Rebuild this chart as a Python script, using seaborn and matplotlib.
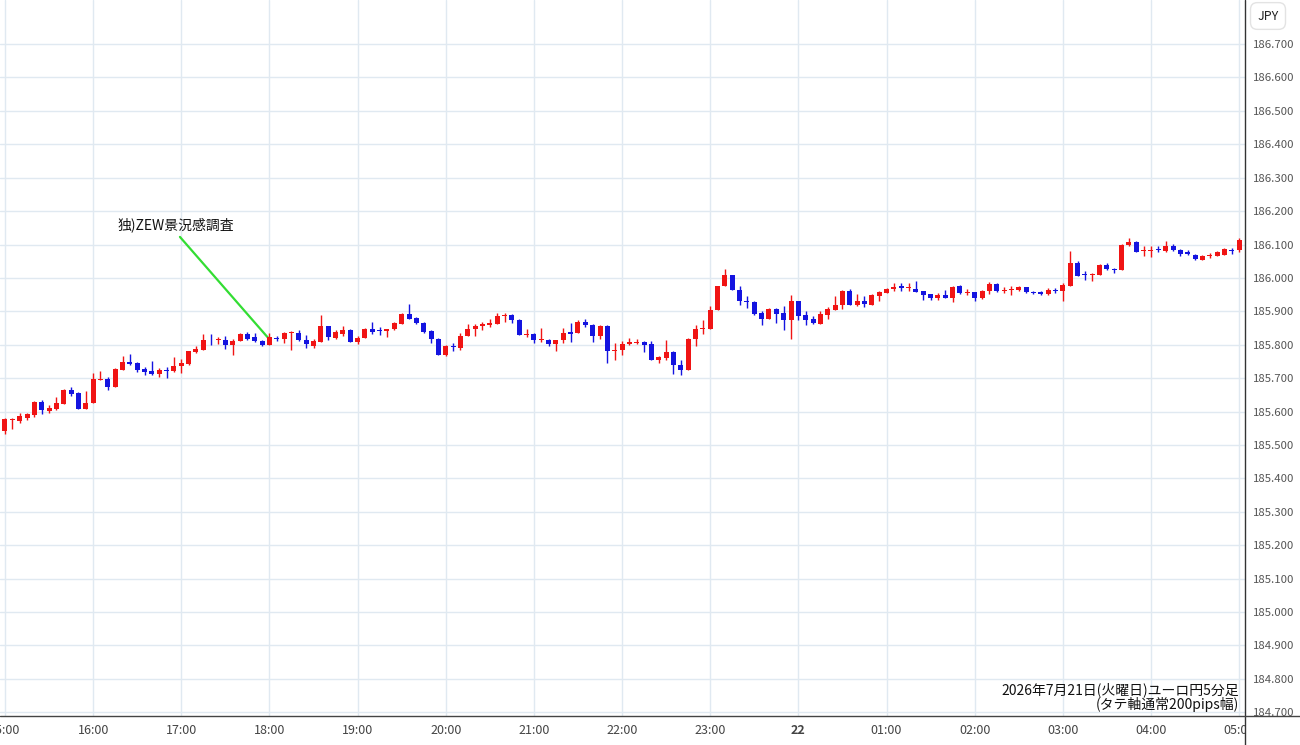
import matplotlib
matplotlib.use("Agg")
import matplotlib.pyplot as plt
from matplotlib.lines import Line2D
from matplotlib.transforms import Bbox, TransformedBbox
import numpy as np
import pandas as pd
import seaborn as sns

# EUR/JPY 5 minute candles, 2026-07-21 14:55 -> 2026-07-22 05:00
opens = [185.577,
         185.543, 185.575, 185.573, 185.582, 185.590, 185.630, 185.603, 185.608, 185.623, 185.663,
         185.655, 185.607, 185.625, 185.695, 185.698, 185.673, 185.725, 185.747, 185.745, 185.727,
         185.722, 185.712, 185.725, 185.720, 185.735, 185.742, 185.779, 185.785, 185.815, 185.813,
         185.815, 185.800, 185.812, 185.832, 185.823, 185.812, 185.800, 185.821, 185.816, 185.836,
         185.836, 185.813, 185.796, 185.809, 185.856, 185.821, 185.833, 185.844, 185.808, 185.821,
         185.848, 185.843, 185.841, 185.846, 185.863, 185.893, 185.881, 185.866, 185.841, 185.818,
         185.769, 185.795, 185.791, 185.826, 185.846, 185.856, 185.860, 185.863, 185.886, 185.889,
         185.874, 185.830, 185.832, 185.815, 185.815, 185.802, 185.815, 185.837, 185.835, 185.867,
         185.860, 185.825, 185.857, 185.780, 185.785, 185.802, 185.805, 185.808, 185.802, 185.755,
         185.760, 185.778, 185.740, 185.725, 185.817, 185.847, 185.848, 185.903, 185.975, 186.010,
         185.965, 185.930, 185.928, 185.895, 185.878, 185.908, 185.895, 185.875, 185.932, 185.888,
         185.877, 185.863, 185.890, 185.903, 185.918, 185.962, 185.920, 185.932, 185.920, 185.945,
         185.955, 185.968, 185.975, 185.970, 185.967, 185.960, 185.952, 185.940, 185.950, 185.940,
         185.975, 185.955, 185.957, 185.940, 185.960, 185.982, 185.962, 185.963, 185.963, 185.973,
         185.958, 185.957, 185.952, 185.965, 185.960, 185.975, 186.045, 186.012, 186.008, 186.008,
         186.040, 186.028, 186.023, 186.100, 186.108, 186.082, 186.082, 186.087, 186.080, 186.097,
         186.085, 186.077, 186.070, 186.055, 186.067, 186.067, 186.070, 186.085, 186.083]
highs = [185.580,
         185.580, 185.580, 185.597, 185.597, 185.632, 185.635, 185.620, 185.643, 185.667, 185.673,
         185.657, 185.662, 185.715, 185.720, 185.702, 185.730, 185.765, 185.773, 185.747, 185.733,
         185.750, 185.730, 185.733, 185.762, 185.757, 185.782, 185.795, 185.833, 185.833, 185.823,
         185.827, 185.817, 185.835, 185.837, 185.835, 185.815, 185.836, 185.826, 185.839, 185.841,
         185.844, 185.829, 185.816, 185.889, 185.856, 185.844, 185.856, 185.846, 185.826, 185.849,
         185.869, 185.854, 185.846, 185.869, 185.894, 185.921, 185.884, 185.869, 185.844, 185.821,
         185.799, 185.806, 185.834, 185.861, 185.863, 185.869, 185.876, 185.894, 185.896, 185.891,
         185.876, 185.846, 185.835, 185.850, 185.818, 185.815, 185.850, 185.865, 185.875, 185.878,
         185.862, 185.860, 185.858, 185.805, 185.810, 185.820, 185.818, 185.810, 185.810, 185.765,
         185.815, 185.780, 185.755, 185.820, 185.858, 185.875, 185.915, 185.977, 186.027, 186.010,
         185.977, 185.945, 185.930, 185.900, 185.910, 185.910, 185.915, 185.948, 185.932, 185.900,
         185.887, 185.900, 185.913, 185.945, 185.965, 185.967, 185.952, 185.945, 185.951, 185.960,
         185.970, 185.985, 185.985, 185.985, 185.990, 185.960, 185.952, 185.955, 185.965, 185.975,
         185.978, 185.968, 185.958, 185.965, 185.988, 185.985, 185.972, 185.975, 185.977, 185.973,
         185.960, 185.960, 185.970, 185.970, 185.985, 186.080, 186.050, 186.020, 186.015, 186.042,
         186.045, 186.030, 186.102, 186.120, 186.110, 186.097, 186.095, 186.097, 186.110, 186.102,
         186.087, 186.085, 186.072, 186.070, 186.075, 186.080, 186.090, 186.090, 186.120]
lows = [185.540,
        185.533, 185.547, 185.567, 185.575, 185.583, 185.593, 185.595, 185.605, 185.623, 185.647,
        185.607, 185.607, 185.625, 185.695, 185.665, 185.673, 185.723, 185.740, 185.717, 185.710,
        185.710, 185.703, 185.700, 185.717, 185.715, 185.740, 185.775, 185.785, 185.800, 185.803,
        185.788, 185.770, 185.810, 185.815, 185.807, 185.795, 185.798, 185.811, 185.806, 185.783,
        185.811, 185.791, 185.789, 185.809, 185.814, 185.816, 185.826, 185.808, 185.801, 185.821,
        185.833, 185.829, 185.823, 185.843, 185.863, 185.878, 185.863, 185.836, 185.806, 185.768,
        185.766, 185.781, 185.783, 185.826, 185.826, 185.844, 185.853, 185.863, 185.869, 185.866,
        185.829, 185.823, 185.805, 185.807, 185.795, 185.780, 185.805, 185.807, 185.835, 185.852,
        185.807, 185.817, 185.745, 185.755, 185.770, 185.800, 185.802, 185.777, 185.753, 185.745,
        185.753, 185.713, 185.710, 185.723, 185.797, 185.832, 185.848, 185.903, 185.975, 185.963,
        185.920, 185.910, 185.890, 185.858, 185.878, 185.865, 185.843, 185.818, 185.875, 185.860,
        185.863, 185.862, 185.877, 185.903, 185.907, 185.918, 185.915, 185.913, 185.920, 185.930,
        185.955, 185.962, 185.962, 185.960, 185.957, 185.933, 185.933, 185.933, 185.940, 185.927,
        185.953, 185.950, 185.930, 185.938, 185.952, 185.957, 185.955, 185.950, 185.960, 185.955,
        185.952, 185.948, 185.950, 185.955, 185.930, 185.975, 186.005, 185.995, 185.990, 186.008,
        186.025, 186.015, 186.023, 186.097, 186.078, 186.067, 186.063, 186.077, 186.077, 186.080,
        186.067, 186.070, 186.055, 186.055, 186.060, 186.065, 186.070, 186.073, 186.077]
closes = [185.545,
          185.577, 185.578, 185.587, 185.592, 185.630, 185.605, 185.612, 185.627, 185.665, 185.652,
          185.607, 185.625, 185.697, 185.698, 185.673, 185.728, 185.748, 185.743, 185.725, 185.717,
          185.712, 185.725, 185.722, 185.735, 185.745, 185.780, 185.787, 185.815, 185.813, 185.817,
          185.798, 185.812, 185.832, 185.817, 185.810, 185.800, 185.822, 185.816, 185.836, 185.839,
          185.813, 185.801, 185.811, 185.856, 185.823, 185.838, 185.844, 185.809, 185.821, 185.848,
          185.839, 185.840, 185.846, 185.866, 185.893, 185.878, 185.866, 185.839, 185.818, 185.769,
          185.796, 185.792, 185.826, 185.846, 185.856, 185.861, 185.866, 185.886, 185.889, 185.874,
          185.829, 185.833, 185.815, 185.818, 185.802, 185.815, 185.835, 185.833, 185.867, 185.859,
          185.825, 185.857, 185.780, 185.785, 185.802, 185.808, 185.808, 185.800, 185.755, 185.762,
          185.778, 185.740, 185.725, 185.817, 185.848, 185.850, 185.905, 185.975, 186.008, 185.963,
          185.930, 185.927, 185.893, 185.878, 185.908, 185.893, 185.875, 185.932, 185.885, 185.875,
          185.865, 185.892, 185.907, 185.920, 185.962, 185.920, 185.930, 185.921, 185.949, 185.957,
          185.968, 185.972, 185.970, 185.972, 185.957, 185.950, 185.940, 185.950, 185.940, 185.973,
          185.955, 185.958, 185.940, 185.962, 185.982, 185.960, 185.965, 185.967, 185.973, 185.957,
          185.955, 185.953, 185.965, 185.961, 185.980, 186.045, 186.007, 186.008, 186.012, 186.040,
          186.027, 186.025, 186.100, 186.108, 186.078, 186.085, 186.085, 186.083, 186.095, 186.085,
          186.073, 186.073, 186.057, 186.067, 186.070, 186.077, 186.087, 186.080, 186.115]

hour_labels = ["15:00", "16:00", "17:00", "18:00", "19:00", "20:00", "21:00", "22:00",
               "23:00", "22", "01:00", "02:00", "03:00", "04:00", "05:00"]
price_ticks = [184.7, 184.8, 184.9, 185.0, 185.1, 185.2, 185.3, 185.4, 185.5, 185.6,
               185.7, 185.8, 185.9, 186.0, 186.1, 186.2, 186.3, 186.4, 186.5, 186.6, 186.7]

event_label = "独)ZEW景況感調査"
event_bar = 36  # 18:00 candle
caption1 = "2026年7月21日(火曜日)ユーロ円5分足"
caption2 = "(タテ軸通常200pips幅)"

df = pd.DataFrame({"open": opens, "high": highs, "low": lows, "close": closes})
df["time"] = pd.date_range("2026-07-21 14:55", periods=len(df), freq="5min")
df["x"] = np.arange(len(df)) - 1
df["up"] = df["close"] >= df["open"]

RED = "#f01414"
BLUE = "#1414e0"
colors = np.where(df["up"], RED, BLUE)

sns.set_theme(style="white")
plt.rcParams["font.family"] = ["Noto Sans CJK JP", "DejaVu Sans"]

W, H = 1300, 745
fig = plt.figure(figsize=(13, 7.45), dpi=100)
ax = fig.add_axes([0, 29 / H, 1245 / W, 716 / H])

# wicks + bodies
ax.vlines(df["x"], df["low"], df["high"], colors=colors, lw=1, zorder=3)
body_lo = np.minimum(df["open"], df["close"])
body_h = np.maximum((df["close"] - df["open"]).abs(), 0.0025)
ax.bar(df["x"], body_h, bottom=body_lo, width=0.68, color=colors, linewidth=0, zorder=4)

ax.set_xlim(-0.68, 168.8)
ax.set_ylim(184.6885, 186.832)

ax.set_xticks(np.arange(0, 169, 12))
ax.set_xticklabels(hour_labels)
ax.set_yticks(price_ticks)
ax.set_yticklabels([f"{p:.3f}" for p in price_ticks])
ax.yaxis.tick_right()
ax.grid(True, color="#e0e9f1", lw=1)
ax.set_axisbelow(True)
ax.tick_params(axis="x", length=0, pad=6, labelsize=9, labelcolor="#444444")
ax.tick_params(axis="y", length=0, pad=6, labelsize=8.2, labelcolor="#555555")
for s in ["top", "left", "right", "bottom"]:
    ax.spines[s].set_visible(False)

clip = TransformedBbox(Bbox([[0, 0], [1245 / W, 1]]), fig.transFigure)
for lbl in ax.get_xticklabels():
    lbl.set_clip_box(clip)
    lbl.set_clip_on(True)
ax.get_xticklabels()[9].set_fontweight("bold")

# frame lines of the chart area
fig.add_artist(Line2D([1245 / W, 1245 / W], [0, 1], color="#333333", lw=1))
fig.add_artist(Line2D([0, 1], [29 / H, 29 / H], color="#444444", lw=1))

fig.text(1268 / W, 1 - 16 / H, "JPY", ha="center", va="center", fontsize=9, color="#222222",
         bbox=dict(boxstyle="round,pad=0.55", fc="white", ec="#e3e3e3", lw=1))

ax.annotate(event_label, xy=(event_bar, 185.816), xytext=(23.3, 186.158),
            ha="center", va="center", fontsize=10, color="#111111",
            arrowprops=dict(arrowstyle="-", color="#33dd33", lw=1.6,
                            relpos=(0.5, 0), shrinkA=1, shrinkB=0))

ax.text(168.0, 184.766, caption1, ha="right", va="center", fontsize=10, color="#111111")
ax.text(168.0, 184.724, caption2, ha="right", va="center", fontsize=10, color="#111111")

fig.savefig("out.png", dpi=100)
